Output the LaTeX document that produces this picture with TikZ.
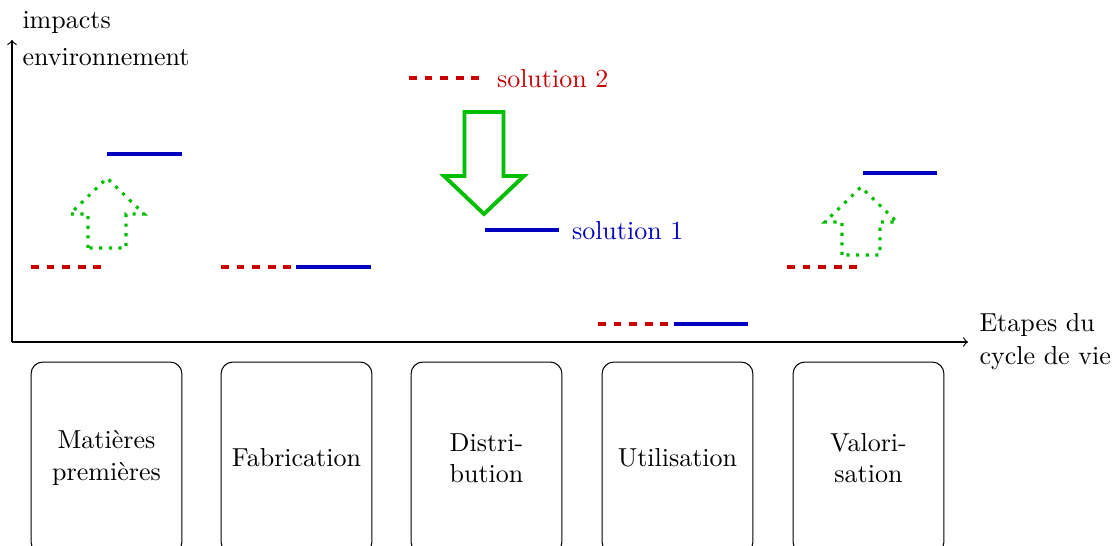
\documentclass[tikz,border=0pt]{standalone}
\usepackage{fontspec}
\definecolor{cred}{RGB}{200,0,0}
\definecolor{cblue}{RGB}{0,0,192}
\definecolor{cgreen}{RGB}{0,190,0}
\begin{document}
\begin{tikzpicture}[x=0.38462pt,y=-0.38462pt,
  lvlred/.style={draw=cred,line width=1.5pt,dashed},
  lvlblue/.style={draw=cblue,line width=1.5pt},
  stagebox/.style={draw,rounded corners=4.5pt,minimum width=58pt,minimum height=73.8pt,align=center,inner sep=0pt,line width=0.4pt},
  axisline/.style={->,line width=0.45pt},
  lab/.style={inner sep=0pt,anchor=base west},
  greendot/.style={draw=cgreen,line width=1.2pt,dash pattern=on 1.2pt off 2.5pt},
  greensolid/.style={draw=cgreen,line width=1.5pt}]
\useasboundingbox (0,0) rectangle (1117,546);

% axes
\coordinate (O) at (12,342);
\coordinate (ytop) at (12,40);
\coordinate (xend) at (968,342);
\draw[axisline] (O) -- (ytop);
\draw[axisline] (O) -- (xend);
\node[lab] (ylab1) at (22,29) {impacts};
\node[lab] (ylab2) at (22,66) {environnement};
\node[lab] (xlab1) at (979,332) {Etapes du};
\node[lab] (xlab2) at (979,365) {cycle de vie};

% stage boxes
\node[stagebox] (b1) at (106.5,458) {Matières\\premières};
\node[stagebox] (b2) at (296.5,458) {Fabrication};
\node[stagebox] (b3) at (486.5,458) {Distri-\\bution};
\node[stagebox] (b4) at (677.5,458) {Utilisation};
\node[stagebox] (b5) at (868.5,458) {Valori-\\sation};

% levels
\coordinate (r1a) at (31,267);  \coordinate (r1b) at (106,267);
\coordinate (u1a) at (107,154); \coordinate (u1b) at (182,154);
\coordinate (r2a) at (221,267); \coordinate (r2b) at (296,267);
\coordinate (u2a) at (296,267); \coordinate (u2b) at (371,267);
\coordinate (r3a) at (409,78);  \coordinate (r3b) at (484,78);
\coordinate (u3a) at (485,230); \coordinate (u3b) at (559,230);
\coordinate (r4a) at (598,324); \coordinate (r4b) at (673,324);
\coordinate (u4a) at (674,324); \coordinate (u4b) at (748,324);
\coordinate (r5a) at (787,267); \coordinate (r5b) at (862,267);
\coordinate (u5a) at (863,173); \coordinate (u5b) at (937,173);
\foreach \i in {1,...,5}{
  \draw[lvlred] (r\i a) -- (r\i b);
  \draw[lvlblue] (u\i a) -- (u\i b);
}
\node[lab,text=cred] (sol2) at (496.5,88) {solution 2};
\node[lab,text=cblue] (sol1) at (571.5,240) {solution 1};

% green arrows
\draw[greendot] (88,248) -- (88,214) -- (70,214) -- (107,178) -- (144,214) -- (126,214) -- (126,248) -- cycle;
\draw[greendot] (842,255) -- (842,222) -- (825,222) -- (861,187) -- (897,222) -- (880,222) -- (880,255) -- cycle;
\draw[greensolid] (464.5,112) -- (464.5,176) -- (444,176) -- (484,214) -- (524,176) -- (503.5,176) -- (503.5,112) -- cycle;
\end{tikzpicture}
\end{document}
